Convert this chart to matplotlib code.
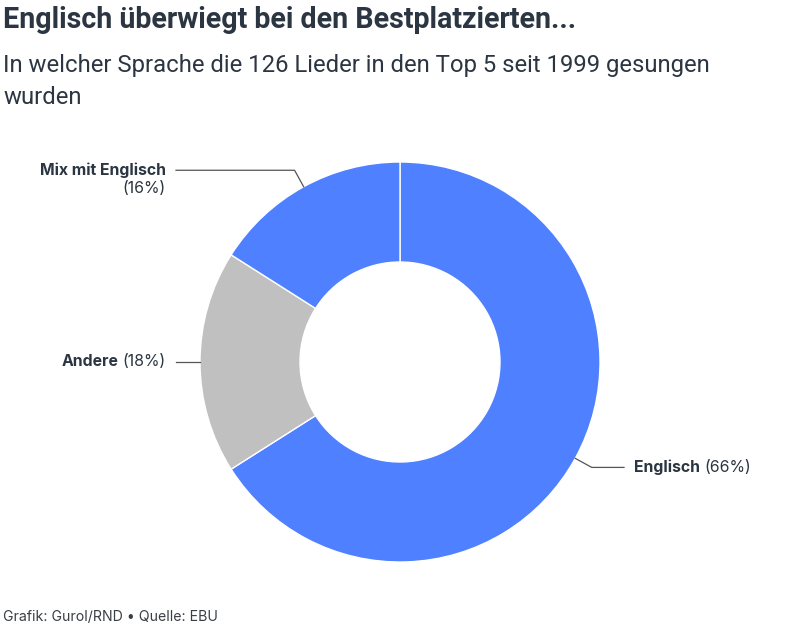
import numpy as np
import matplotlib
matplotlib.use("Agg")
from matplotlib import pyplot as plt

# Daten
labels = ["Englisch", "Andere", "Mix mit Englisch"]
shares = [66, 18, 16]
colors = ["#4f80ff", "#c0c0c0", "#4f80ff"]

title = "Englisch überwiegt bei den Bestplatzierten..."
subtitle = "In welcher Sprache die 126 Lieder in den Top 5 seit 1999 gesungen\nwurden"
footer = "Grafik: Gurol/RND • Quelle: EBU"

txt = "#2b3642"
plt.rcParams['font.family'] = ['Inter', 'DejaVu Sans']

fig = plt.figure(figsize=(8, 6.28), dpi=100)
fig.text(0.004, 0.955, title, family=['Roboto', 'DejaVu Sans'],
         weight='bold', fontsize=20.6, color=txt, va='baseline')
fig.text(0.004, 0.914, subtitle, family=['Roboto', 'DejaVu Sans'],
         fontsize=17.2, color=txt, va='top', linespacing=1.52)
fig.text(0.004, 0.006, footer, fontsize=10.2, color="#3a3f45", va='bottom')

# Donut
ax = fig.add_axes([200 / 800, 66 / 628, 400 / 800, 400 / 628])
wedges, _ = ax.pie(shares, colors=colors, startangle=90, counterclock=False,
                   wedgeprops=dict(width=0.5, edgecolor='white', linewidth=1))
ax.set_xlim(-1, 1)
ax.set_ylim(-1, 1)
ax.set_aspect('equal')
ax.axis('off')

lc = "#555555"
fs = 11.4
for w, lab, s in zip(wedges, labels, shares):
    ang = np.deg2rad((w.theta1 + w.theta2) / 2)
    x0, y0 = np.cos(ang), np.sin(ang)
    if abs(y0) > 0.2:
        x1, y1 = 1.094 * x0, 1.094 * y0
    else:
        x1, y1 = 1.02 * x0, y0
    side = 1 if x0 > 0 else -1
    x2 = side * 1.12
    ax.plot([x0, x1, x2], [y0, y1, y1], color=lc, lw=0.9, clip_on=False)
    xt = side * 1.17
    if side > 0:
        t = ax.text(xt, y1, lab, weight='bold', fontsize=fs, color=txt,
                    ha='left', va='center')
        ax.annotate(f"({s}%)", xy=(1, 0.5), xycoords=t, xytext=(3, 0),
                    textcoords='offset points', fontsize=fs, color=txt,
                    ha='left', va='center')
    elif abs(y0) < 0.2:
        t = ax.text(xt, y1, f"({s}%)", fontsize=fs, color=txt,
                    ha='right', va='center')
        ax.annotate(lab, xy=(0, 0.5), xycoords=t, xytext=(-3, 0),
                    textcoords='offset points', weight='bold', fontsize=fs,
                    color=txt, ha='right', va='center')
    else:
        ax.text(xt, y1, lab, weight='bold', fontsize=fs, color=txt,
                ha='right', va='center')
        ax.text(xt, y1 - 0.09, f"({s}%)", fontsize=fs, color=txt,
                ha='right', va='center')

fig.savefig("out.png", dpi=100, facecolor='white')
